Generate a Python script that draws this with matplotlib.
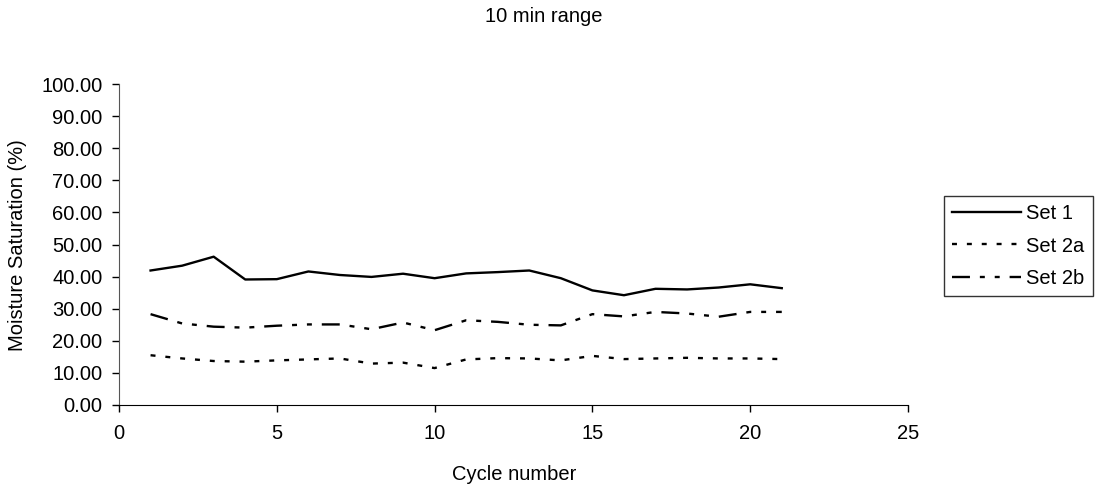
import matplotlib.pyplot as plt
import numpy as np

plt.rcParams['font.family'] = ['Liberation Sans', 'DejaVu Sans']

cycles = np.arange(1, 22)
set1 = [41.9, 43.4, 46.2, 39.1, 39.2, 41.6, 40.5, 39.9, 40.9, 39.5, 41.0,
        41.4, 41.9, 39.5, 35.7, 34.2, 36.2, 36.0, 36.6, 37.6, 36.4]
set2a = [15.5, 14.5, 13.7, 13.5, 13.9, 14.2, 14.5, 12.9, 13.2, 11.5, 14.2,
         14.6, 14.5, 13.9, 15.3, 14.3, 14.5, 14.7, 14.5, 14.5, 14.3]
set2b = [28.3, 25.4, 24.4, 24.1, 24.7, 25.1, 25.1, 23.6, 25.7, 23.3, 26.4,
         25.9, 25.0, 24.8, 28.3, 27.6, 29.0, 28.5, 27.5, 29.0, 29.0]

W, H = 1102, 487
fs = 14.5
fig = plt.figure(figsize=(W/100, H/100), dpi=100)
ax = fig.add_axes([119/W, 1-405/H, (908-119)/W, (405-84)/H])

lw = 1.7
ax.plot(cycles, set1, color='black', lw=lw, label='Set 1')
ax.plot(cycles, set2a, color='black', lw=lw, linestyle=(0, (2.1, 4.2)), label='Set 2a')
ax.plot(cycles, set2b, color='black', lw=lw,
        linestyle=(0, (7.6, 4.2, 2.1, 4.2, 2.1, 4.2)), label='Set 2b')

ax.set_xlim(0, 25)
ax.set_ylim(0, 100)
ax.set_xticks(range(0, 26, 5))
ax.set_yticks(range(0, 101, 10))
ax.set_yticklabels(['%.2f' % v for v in range(0, 101, 10)])
ax.tick_params(labelsize=fs, length=5, width=1)
ax.tick_params(axis='x', pad=9)
ax.tick_params(axis='y', pad=7)
for s in ['top', 'right']:
    ax.spines[s].set_visible(False)
ax.spines['left'].set_color('#555555')

fig.text(514/W, 1-474/H, 'Cycle number', ha='center', va='center', fontsize=fs)
fig.text(18/W, 1-245/H, 'Moisture Saturation (%)', ha='center', va='center',
         rotation=90, fontsize=fs)
fig.text(544/W, 1-17/H, '10 min range', ha='center', va='center', fontsize=fs)

leg = ax.legend(loc='upper left', bbox_to_anchor=(944/W, 1-196/H),
                bbox_transform=fig.transFigure, fontsize=fs, frameon=True,
                fancybox=False, edgecolor='black', handlelength=3.4,
                handletextpad=0.25, borderpad=0.42, labelspacing=0.65,
                borderaxespad=0)
leg.get_frame().set_linewidth(1)

fig.savefig('out.png', dpi=100)
